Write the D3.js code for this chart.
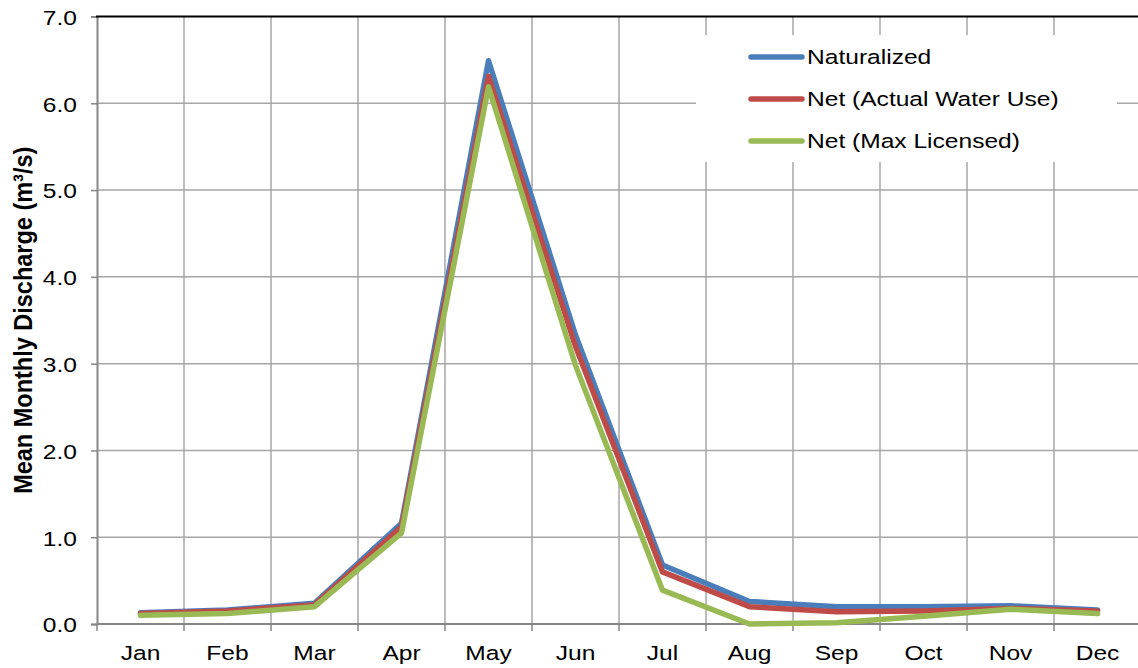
<!DOCTYPE html>
<html>
<head>
<meta charset="utf-8">
<script src="https://cdn.jsdelivr.net/npm/d3@7"></script>
<style>
  html, body { margin: 0; padding: 0; background: #fff; }
  svg { display: block; font-family: "Liberation Sans", Arial, sans-serif; }
</style>
</head>
<body>
<svg id="chart" width="1138" height="668"></svg>
<script>
// Mean monthly discharge by month
const months = ["Jan", "Feb", "Mar", "Apr", "May", "Jun", "Jul", "Aug", "Sep", "Oct", "Nov", "Dec"];
const naturalized = [0.13, 0.16, 0.24, 1.16, 6.49, 3.33, 0.68, 0.26, 0.20, 0.20, 0.21, 0.16];
const netActual   = [0.12, 0.15, 0.22, 1.12, 6.31, 3.20, 0.60, 0.20, 0.14, 0.15, 0.18, 0.15];
const netLicensed = [0.10, 0.12, 0.20, 1.05, 6.19, 2.98, 0.39, 0.00, 0.015, 0.09, 0.17, 0.12];
const yTicks = [0, 1, 2, 3, 4, 5, 6, 7];
const seriesNames = ["Naturalized", "Net (Actual Water Use)", "Net (Max Licensed)"];
const seriesColors = ["#4A7EBB", "#BE4B48", "#98B954"];

const series = [naturalized, netActual, netLicensed].map((values, i) => ({
  name: seriesNames[i], color: seriesColors[i], values
}));

const svg = d3.select("#chart");
const plotLeft = 97, plotRight = 1141, plotTop = 16.5, plotBottom = 624;
const fontSize = 19.5;   // text is set a little wide
const stretch = 1.26;

const x = d3.scaleBand().domain(months).range([plotLeft, plotRight]);
const y = d3.scaleLinear().domain([0, 7]).range([plotBottom, plotTop]);

// Horizontal gridlines
svg.append("g")
  .selectAll("line")
  .data(yTicks.filter(d => d > 0 && d < 7))
  .join("line")
  .attr("x1", plotLeft).attr("x2", plotRight)
  .attr("y1", d => y(d)).attr("y2", d => y(d))
  .attr("stroke", "#a6a6a6").attr("stroke-width", 1.5);

// Vertical gridlines at category boundaries
svg.append("g")
  .selectAll("line")
  .data(months.slice(1))
  .join("line")
  .attr("x1", d => x(d)).attr("x2", d => x(d))
  .attr("y1", plotTop).attr("y2", plotBottom)
  .attr("stroke", "#a6a6a6").attr("stroke-width", 1.5);

// Legend background hides the grid beneath it
svg.append("rect")
  .attr("x", 696).attr("y", 35).attr("width", 421).attr("height", 127)
  .attr("fill", "#fff");

// Y axis
const yAxis = svg.append("g")
  .attr("transform", `translate(${plotLeft},0)`)
  .call(d3.axisLeft(y).tickValues(yTicks).tickFormat(d3.format(".1f")).tickSize(6));
yAxis.select(".domain").attr("stroke", "#868686").attr("stroke-width", 2);
yAxis.selectAll(".tick line").attr("stroke", "#868686").attr("stroke-width", 1.5);
yAxis.selectAll(".tick text")
  .attr("x", 0).attr("dy", "0.35em")
  .attr("transform", `translate(-20,1) scale(${stretch},1)`)
  .attr("text-anchor", "end")
  .attr("font-size", fontSize).attr("fill", "#000")
  .attr("font-family", "Liberation Sans, Arial, sans-serif");

// X axis: labels at band centres, ticks at category boundaries
const xAxis = svg.append("g")
  .attr("transform", `translate(0,${plotBottom})`)
  .call(d3.axisBottom(x).tickSize(0));
xAxis.select(".domain").remove();
xAxis.selectAll(".tick text")
  .attr("y", 0).attr("dy", 0)
  .attr("transform", `translate(0,36) scale(${stretch},1)`)
  .attr("font-size", fontSize).attr("fill", "#000")
  .attr("font-family", "Liberation Sans, Arial, sans-serif");
svg.append("line")
  .attr("x1", plotLeft).attr("x2", plotRight).attr("y1", plotBottom).attr("y2", plotBottom)
  .attr("stroke", "#868686").attr("stroke-width", 2);
svg.append("g")
  .selectAll("line")
  .data(months)
  .join("line")
  .attr("x1", d => x(d)).attr("x2", d => x(d))
  .attr("y1", plotBottom).attr("y2", plotBottom + 7)
  .attr("stroke", "#868686").attr("stroke-width", 1.5);

// Top border
svg.append("line")
  .attr("x1", plotLeft - 1).attr("x2", plotRight).attr("y1", plotTop).attr("y2", plotTop)
  .attr("stroke", "#000").attr("stroke-width", 2);

// Y axis title
svg.append("text")
  .attr("transform", `translate(32,${(plotTop + plotBottom) / 2}) scale(1.12,1) rotate(-90)`)
  .attr("text-anchor", "middle")
  .attr("font-size", 23.5).attr("font-weight", "bold")
  .text("Mean Monthly Discharge (m³/s)");

// Series lines
const line = d3.line()
  .x((d, i) => x(months[i]) + x.bandwidth() / 2)
  .y(d => y(d));

svg.append("g")
  .selectAll("path")
  .data(series)
  .join("path")
  .attr("d", d => line(d.values))
  .attr("fill", "none")
  .attr("stroke", d => d.color)
  .attr("stroke-width", 5.5)
  .attr("stroke-linejoin", "round")
  .attr("stroke-linecap", "round");

// Legend
const legend = svg.append("g");
const rows = legend.selectAll("g")
  .data(series)
  .join("g")
  .attr("transform", (d, i) => `translate(0,${57 + i * 42})`);
rows.append("line")
  .attr("x1", 751).attr("x2", 802)
  .attr("stroke", d => d.color).attr("stroke-width", 5.5).attr("stroke-linecap", "round");
rows.append("text")
  .attr("transform", `translate(807,0) scale(${stretch},1)`)
  .attr("dy", "0.35em")
  .attr("font-size", fontSize)
  .text(d => d.name);
</script>
</body>
</html>
